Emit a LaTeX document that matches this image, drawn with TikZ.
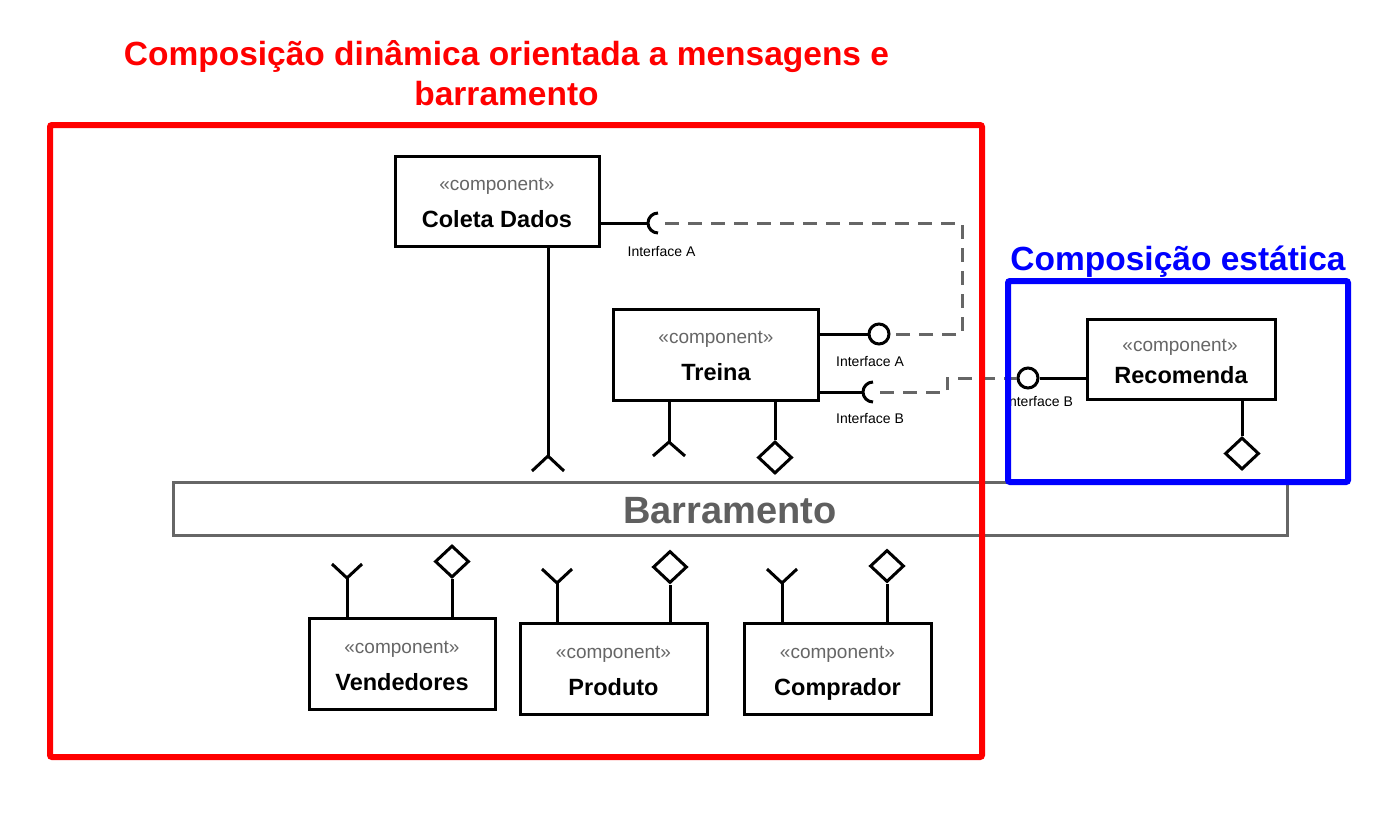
\documentclass[tikz,border=0pt]{standalone}
\usepackage{fontspec}
\setmainfont{Liberation Sans}
\usetikzlibrary{calc,shapes.geometric}
\definecolor{stgray}{HTML}{666666}
\definecolor{busgray}{HTML}{666666}
\definecolor{bustext}{HTML}{5F5F5F}
\definecolor{myred}{HTML}{FF0000}
\definecolor{myblue}{HTML}{0000FF}
\begin{document}
\begin{tikzpicture}[x=1pt,y=-1pt,
  box/.style={draw,line width=3pt,inner sep=0pt},
  stereo/.style={text=stgray,font=\fontsize{19}{19}\selectfont,anchor=base,inner sep=0pt},
  cname/.style={font=\fontsize{23.5}{23.5}\selectfont\bfseries,anchor=base,inner sep=0pt},
  iflabel/.style={font=\fontsize{14}{14}\selectfont,anchor=base,inner sep=0pt},
  wire/.style={line width=3pt},
  dashline/.style={draw=stgray,line width=3pt,dash pattern=on 14pt off 9pt},
  lolli/.style={circle,draw,line width=3pt,minimum size=20pt,inner sep=0pt,fill=white},
  dia/.style={diamond,draw,line width=3pt,minimum width=34pt,minimum height=32pt,inner sep=0pt,fill=white},
  title/.style={font=\fontsize{33.5}{40}\selectfont\bfseries,anchor=base,inner sep=0pt}
]
\useasboundingbox (0,0) rectangle (1400,830);
\fill[white] (0,0) rectangle (1400,830);

% titles
\node[title,text=myred] (t1) at (506.5,65) {Composição dinâmica orientada a mensagens e};
\node[title,text=myred] (t2) at (506.5,105) {barramento};
\node[title,text=myblue] (t3) at (1178,270) {Composição estática};

% bus
\node[draw=busgray,line width=3pt,minimum width=1114pt,minimum height=53pt,inner sep=0pt] (bus) at (730,508.5) {};
\node[font=\fontsize{38}{38}\selectfont\bfseries,text=bustext,anchor=base,inner sep=0pt] (bustxt) at (730,523) {Barramento};

% components
\node[box,minimum width=204pt,minimum height=90pt] (coleta) at (497,201) {};
\node[stereo] (coletaS) at (497,190) {«component»};
\node[cname] (coletaN) at (497,227) {Coleta Dados};

\node[box,minimum width=205pt,minimum height=91pt] (treina) at (715.5,354.5) {};
\node[stereo] (treinaS) at (716,343) {«component»};
\node[cname] (treinaN) at (716,380) {Treina};

\node[box,minimum width=188pt,minimum height=80pt] (recom) at (1181,359) {};
\node[stereo] (recomS) at (1180,351) {«component»};
\node[cname] (recomN) at (1181,383) {Recomenda};

\node[box,minimum width=186pt,minimum height=91pt] (vend) at (402,663.5) {};
\node[stereo] (vendS) at (402,653) {«component»};
\node[cname] (vendN) at (402,690) {Vendedores};

\node[box,minimum width=187pt,minimum height=91pt] (prod) at (613.5,668.5) {};
\node[stereo] (prodS) at (613.5,658) {«component»};
\node[cname] (prodN) at (613.5,695) {Produto};

\node[box,minimum width=187pt,minimum height=91pt] (compr) at (837.5,668.5) {};
\node[stereo] (comprS) at (837.5,658) {«component»};
\node[cname] (comprN) at (837.5,695) {Comprador};

% Interface A (Coleta socket)
\coordinate (sA) at (658,223);
\draw[wire] (coleta.east |- sA) -- ($(sA)+(-10,0)$);
\draw[wire] ($(sA)+(0,10)$) arc[start angle=90,end angle=270,radius=10];
\node[iflabel] (lblA1) at (661.5,256) {Interface A};

% Interface A (Treina lollipop)
\node[lolli] (lA) at (879,334) {};
\draw[wire] (treina.east |- lA) -- (lA.west);
\node[iflabel] (lblA2) at (870,366) {Interface A};

\coordinate (dA) at (962,223);
\draw[dashline] ($(sA)+(7,0)$) -- (dA) |- (lA.east);

% Interface B (Treina socket)
\coordinate (sB) at (873,392);
\draw[wire] (treina.east |- sB) -- ($(sB)+(-10,0)$);
\draw[wire] ($(sB)+(0,10)$) arc[start angle=90,end angle=270,radius=10];
\node[iflabel] (lblB1) at (870,423) {Interface B};

% Interface B (Recomenda lollipop)
\node[lolli] (lB) at (1028,378) {};
\draw[wire] (lB.east) -- (recom.west |- lB);
\node[iflabel] (lblB2) at (1039,406) {Interface B};

\coordinate (dB) at (947,392);
\draw[dashline] ($(sB)+(7,0)$) -- (dB) |- (lB.west);

% Coleta fork
\coordinate (cdf) at (548,456);
\draw[wire] (cdf |- coleta.south) -- (cdf);
\draw[wire] ($(cdf)+(-16,15)$) -- (cdf) -- ($(cdf)+(16,15)$);

% Treina fork and diamond
\coordinate (trf) at (669,442);
\draw[wire] (trf |- treina.south) -- (trf);
\draw[wire] ($(trf)+(-16,14)$) -- (trf) -- ($(trf)+(16,14)$);
\node[dia] (trd) at (775,457.5) {};
\draw[wire] (trd.north |- treina.south) -- (trd.north);

% Recomenda diamond
\node[dia] (rcd) at (1242,453.5) {};
\draw[wire] (rcd.north |- recom.south) -- (rcd.north);

% Vendedores
\coordinate (vf) at (347,578);
\draw[wire] (vf |- vend.north) -- (vf);
\draw[wire] ($(vf)+(-15,-14)$) -- (vf) -- ($(vf)+(15,-14)$);
\node[dia] (vd) at (452,561.5) {};
\draw[wire] (vd.south |- vend.north) -- (vd.south);

% Produto
\coordinate (pf) at (557,583);
\draw[wire] (pf |- prod.north) -- (pf);
\draw[wire] ($(pf)+(-15,-14)$) -- (pf) -- ($(pf)+(15,-14)$);
\node[dia] (pd) at (670,567) {};
\draw[wire] (pd.south |- prod.north) -- (pd.south);

% Comprador
\coordinate (cf) at (782,583);
\draw[wire] (cf |- compr.north) -- (cf);
\draw[wire] ($(cf)+(-15,-14)$) -- (cf) -- ($(cf)+(15,-14)$);
\node[dia] (cd) at (887,566) {};
\draw[wire] (cd.south |- compr.north) -- (cd.south);

% frames
\node[draw=myred,line width=6pt,rounded corners=2pt,minimum width=932pt,minimum height=632pt,inner sep=0pt] (dyn) at (516,441) {};
\node[draw=myblue,line width=6pt,rounded corners=2pt,minimum width=340pt,minimum height=201pt,inner sep=0pt] (stat) at (1178,381.5) {};
\end{tikzpicture}
\end{document}
